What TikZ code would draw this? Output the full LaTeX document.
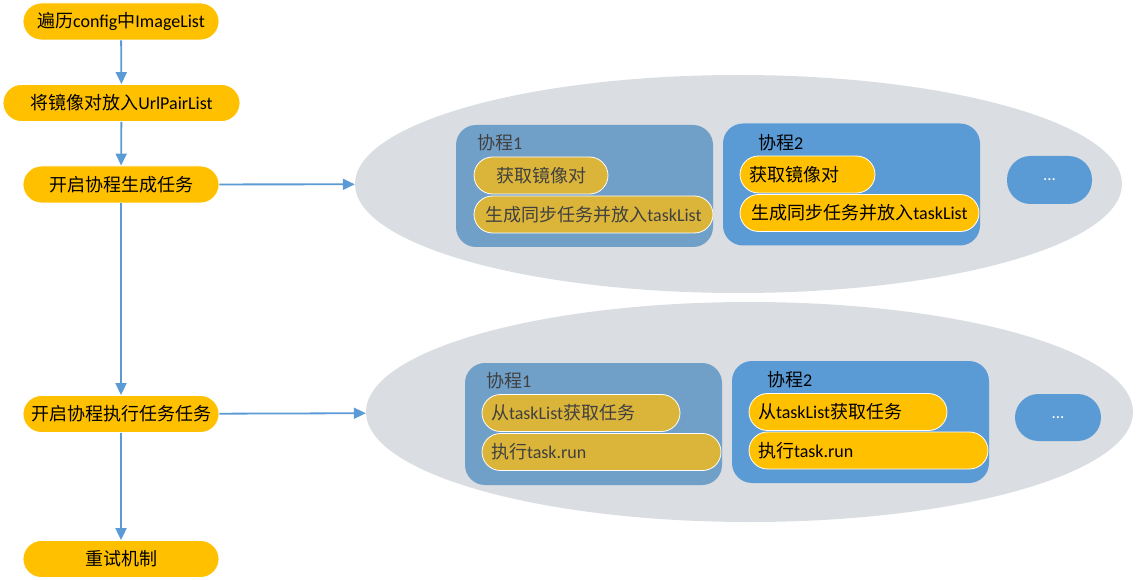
\documentclass[tikz,border=0pt]{standalone}
\usepackage{fontspec}
\setmainfont{Carlito}
\newfontfamily\cjk{Noto Sans CJK SC}
\newcommand{\zh}[1]{{\cjk #1}}
\usetikzlibrary{shapes.geometric,arrows.meta}

\definecolor{stepgold}{RGB}{255,192,0}
\definecolor{mutedgold}{RGB}{219,181,58}
\definecolor{flowblue}{RGB}{91,155,213}
\definecolor{mutedblue}{RGB}{112,159,200}
\definecolor{poolgrey}{RGB}{218,221,225}
\definecolor{darktext}{RGB}{64,64,64}

\tikzset{
  stepbox/.style={draw=white, line width=0.8pt, fill=stepgold, rounded corners=18.5pt, minimum height=37pt, inner sep=0pt, font=\fontsize{18}{21}\selectfont},
  mutedbox/.style={stepbox, fill=mutedgold, text=darktext},
  leftbox/.style={text width=#1, inner xsep=9pt, align=left},
  pool/.style={ellipse, fill=poolgrey, inner sep=0pt},
  corobox/.style={rounded corners=20pt, inner sep=0pt, minimum width=257pt, minimum height=122pt},
  morebox/.style={fill=flowblue, rounded corners=23.5pt, inner sep=0pt, text=white, font=\fontsize{17}{20}\selectfont},
  corolabel/.style={anchor=west, inner sep=0pt, font=\fontsize{18}{21}\selectfont},
  flow/.style={draw=flowblue, line width=1.8pt, -{Triangle[length=12pt,width=11pt]}},
}

\begin{document}
\begin{tikzpicture}[x=1pt,y=1pt,yscale=-1,xscale=1]
    \useasboundingbox (0,0) rectangle (1141,580);

    % pools of coroutines
    \node[pool, minimum width=767pt, minimum height=218pt] (genpool) at (738.5,184) {};
    \node[pool, minimum width=767pt, minimum height=220pt] (runpool) at (749.5,412) {};

    \node[corobox, fill=mutedblue] (genco1) at (584.5,186) {};
    \node[corobox, fill=flowblue] (genco2) at (851.5,184.5) {};
    \node[morebox, minimum width=85pt, minimum height=48pt] (genmore) at (1049.5,180) {...};
    \node[corobox, fill=mutedblue] (runco1) at (593.5,424) {};
    \node[corobox, fill=flowblue] (runco2) at (860.5,422) {};
    \node[morebox, minimum width=86pt, minimum height=47pt] (runmore) at (1058,417.5) {...};

    \node[corolabel, text=darktext] (genco1label) at (477,143) {\zh{协程}1};
    \node[corolabel] (genco2label) at (758,143) {\zh{协程}2};
    \node[corolabel, text=darktext] (runco1label) at (486,381) {\zh{协程}1};
    \node[corolabel] (runco2label) at (767,380) {\zh{协程}2};

    % steps inside the coroutines
    \node[mutedbox, minimum width=134pt] (genpair1) at (541,175.5) {\zh{获取镜像对}};
    \node[mutedbox, minimum width=239pt] (genjob1) at (593.5,214.5) {\zh{生成同步任务并放入}taskList};
    \node[stepbox, leftbox=117pt] (genpair2) at (807.5,174.5) {\zh{获取镜像对}};
    \node[stepbox, minimum width=239pt] (genjob2) at (859.5,213) {\zh{生成同步任务并放入}taskList};

    \node[mutedbox, leftbox=180pt] (runfetch1) at (581,413) {\zh{从}taskList\zh{获取任务}};
    \node[mutedbox, leftbox=221pt] (runexec1) at (601.5,452) {\zh{执行}task.run};
    \node[stepbox, leftbox=180pt] (runfetch2) at (848,412) {\zh{从}taskList\zh{获取任务}};
    \node[stepbox, leftbox=221pt] (runexec2) at (868.5,450.5) {\zh{执行}task.run};

    % main flow
    \node[stepbox, minimum width=196pt] (imglist) at (121,21.5) {\zh{遍历}config\zh{中}ImageList};
    \node[stepbox, minimum width=237pt] (pairlist) at (121.5,103) {\zh{将镜像对放入}UrlPairList};
    \node[stepbox, minimum width=196pt] (gentask) at (121,184.5) {\zh{开启协程生成任务}};
    \node[stepbox, minimum width=196pt] (runtask) at (121,414) {\zh{开启协程执行任务任务}};
    \node[stepbox, minimum width=196pt] (retry) at (121,559) {\zh{重试机制}};

    \draw[flow] (imglist) -- (pairlist);
    \draw[flow] (pairlist) -- (gentask);
    \draw[flow] (gentask) -- (runtask);
    \draw[flow] (runtask) -- (retry);
    \draw[flow] (gentask) -- (genpool);
    \draw[flow] (runtask) -- (runpool);
\end{tikzpicture}
\end{document}
